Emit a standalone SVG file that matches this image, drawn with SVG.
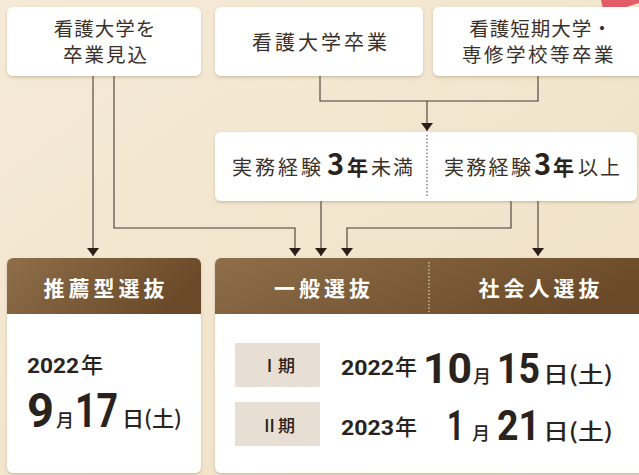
<svg xmlns="http://www.w3.org/2000/svg" width="639" height="475" viewBox="0 0 639 475">
<style>
.box{fill:#ffffff;filter:url(#sh);}
.t{font-family:"Noto Sans CJK JP","Noto Sans",sans-serif;fill:#3a302a;}
.tb{font-family:"Noto Sans CJK JP","Noto Sans",sans-serif;fill:#2a221d;font-weight:700;}
.tm{font-family:"Noto Sans CJK JP","Noto Sans",sans-serif;fill:#2a221d;font-weight:500;}
.num{font-family:"Roboto","Noto Sans CJK JP",sans-serif;fill:#2a221d;font-weight:700;}
.hd{font-family:"Noto Sans CJK JP","Noto Sans",sans-serif;fill:#ffffff;font-weight:700;font-size:21px;letter-spacing:4px;text-anchor:middle;}
.ln{fill:none;stroke:#4a3b30;stroke-width:1.1;}
.arr{marker-end:url(#ah);}
.lab{fill:#e7dfd3;}
</style>
<defs>
<linearGradient id="bg" x1="0" y1="0" x2="1" y2="1">
<stop offset="0" stop-color="#f5ead7"/>
<stop offset="1" stop-color="#efe1c6"/>
</linearGradient>
<linearGradient id="hdr" x1="0" y1="0" x2="1" y2="0.3">
<stop offset="0" stop-color="#8f6f4a"/>
<stop offset="1" stop-color="#6a4a28"/>
</linearGradient>
<filter id="sh" x="-10%" y="-10%" width="120%" height="130%">
<feDropShadow dx="0" dy="1.5" stdDeviation="1.5" flood-color="#7a5a30" flood-opacity="0.3"/>
</filter>
<marker id="ah" viewBox="0 0 8 12" refX="8" refY="6" markerWidth="8" markerHeight="12" markerUnits="userSpaceOnUse" orient="auto">
<path d="M0,0 L8,6 L0,12 z" fill="#2a1f18"/>
</marker>
</defs>
<rect x="0" y="0" width="639" height="475" fill="url(#bg)"/>
<polygon points="601,0 604,14 639,3 639,0" fill="#e35d66"/>

<g id="connectors">
<path class="ln arr" d="M93,76 V256"/>
<path class="ln arr" d="M114,76 V228 H295 V256"/>
<path class="ln arr" d="M321,201 V256"/>
<path class="ln arr" d="M511,201 V228 H347 V256"/>
<path class="ln arr" d="M538,201 V256"/>
<path class="ln" d="M320,76 V101 H538 V76"/>
<path class="ln arr" d="M427,101 V131"/>
</g>

<g id="node-mikomi">
<rect class="box" x="7" y="7" width="194" height="69" rx="6"/>
<text class="t" x="105" y="36" font-size="19.5" letter-spacing="1" text-anchor="middle">看護大学を</text>
<text class="t" x="106" y="62" font-size="19.5" letter-spacing="2" text-anchor="middle">卒業見込</text>
</g>

<g id="node-daigaku">
<rect class="box" x="215" y="7" width="208" height="69" rx="6"/>
<text class="t" x="321" y="50" font-size="20" letter-spacing="3" text-anchor="middle">看護大学卒業</text>
</g>

<g id="node-tanki">
<rect class="box" x="433" y="7" width="220" height="69" rx="6"/>
<text class="t" x="541" y="36" font-size="19.5" letter-spacing="1" text-anchor="middle">看護短期大学・</text>
<text class="t" x="539" y="62" font-size="19.5" letter-spacing="2.5" text-anchor="middle">専修学校等卒業</text>
</g>

<g id="node-jitsumu">
<rect class="box" x="215" y="132" width="422" height="69" rx="6"/>
<line x1="427" y1="135" x2="427" y2="198" stroke="#4a3b30" stroke-width="1" stroke-dasharray="1.5,2"/>
<text class="t" y="175" font-size="20"><tspan x="232" letter-spacing="3">実務経験</tspan><tspan class="tb" x="327" font-size="29">3</tspan><tspan class="tb" x="347" font-size="21">年</tspan><tspan x="371" letter-spacing="2">未満</tspan></text>
<text class="t" y="175" font-size="20"><tspan x="444" letter-spacing="2.3">実務経験</tspan><tspan class="tb" x="534" font-size="29">3</tspan><tspan class="tb" x="553" font-size="21">年</tspan><tspan x="578" letter-spacing="2">以上</tspan></text>
</g>

<g id="node-suisen">
<rect class="box" x="7" y="258" width="194" height="215" rx="6"/>
<path d="M13,258 H195 A6,6 0 0 1 201,264 V314 H7 V264 A6,6 0 0 1 13,258 z" fill="url(#hdr)"/>
<text class="hd" x="106" y="296">推薦型選抜</text>
<text class="num" x="27" y="373" font-size="21" textLength="52" lengthAdjust="spacingAndGlyphs">2022</text>
<text class="tm" x="81" y="373" font-size="22">年</text>
<text class="num" x="27" y="427" font-size="48" textLength="27" lengthAdjust="spacingAndGlyphs">9</text>
<text class="tm" x="56" y="427" font-size="18">月</text>
<text class="num" x="75" y="427" font-size="48" textLength="43" lengthAdjust="spacingAndGlyphs">17</text>
<text class="tm" x="122" y="426" font-size="21" textLength="60" lengthAdjust="spacingAndGlyphs">日(土)</text>
</g>

<g id="node-ippan">
<rect class="box" x="215" y="258" width="440" height="215" rx="6"/>
<path d="M221,258 H655 V314 H215 V264 A6,6 0 0 1 221,258 z" fill="url(#hdr)"/>
<line x1="429" y1="262" x2="429" y2="312" stroke="#f3e6d0" stroke-width="1" stroke-dasharray="1.5,2"/>
<text class="hd" x="324" y="296">一般選抜</text>
<text class="hd" x="541" y="296">社会人選抜</text>

<rect class="lab" x="235" y="343" width="85" height="44"/>
<text class="tm" x="278" y="372" font-size="17" text-anchor="middle">Ⅰ期</text>
<rect class="lab" x="235" y="402" width="85" height="44"/>
<text class="tm" x="278" y="432" font-size="17" text-anchor="middle">Ⅱ期</text>

<text class="num" x="341" y="375" font-size="21" textLength="53" lengthAdjust="spacingAndGlyphs">2022</text>
<text class="tm" x="395" y="375" font-size="22">年</text>
<text class="num" x="423" y="383" font-size="43" textLength="49" lengthAdjust="spacingAndGlyphs">10</text>
<text class="tm" x="473" y="383" font-size="18">月</text>
<text class="num" x="497" y="383" font-size="43" textLength="43" lengthAdjust="spacingAndGlyphs">15</text>
<text class="tm" x="543" y="382" font-size="22" textLength="70" lengthAdjust="spacingAndGlyphs">日(土)</text>

<text class="num" x="341" y="435" font-size="21" textLength="53" lengthAdjust="spacingAndGlyphs">2023</text>
<text class="tm" x="395" y="435" font-size="22">年</text>
<text class="num" x="447" y="440" font-size="43" textLength="17" lengthAdjust="spacingAndGlyphs">1</text>
<text class="tm" x="472" y="440" font-size="18">月</text>
<text class="num" x="497" y="440" font-size="43" textLength="43" lengthAdjust="spacingAndGlyphs">21</text>
<text class="tm" x="543" y="439" font-size="22" textLength="70" lengthAdjust="spacingAndGlyphs">日(土)</text>
</g>
</svg>
